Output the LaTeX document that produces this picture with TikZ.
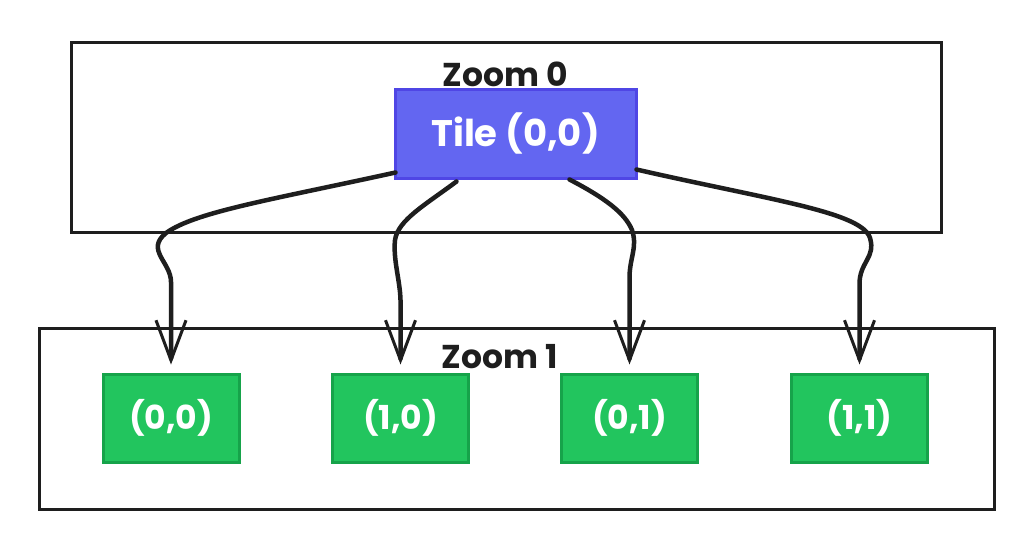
\documentclass[tikz,border=0pt]{standalone}
\usepackage{fontspec}
\setmainfont{Poppins}
\usetikzlibrary{arrows.meta}
\definecolor{tileblue}{HTML}{6366F1}
\definecolor{tileblueb}{HTML}{4F46E5}
\definecolor{tilegreen}{HTML}{22C55E}
\definecolor{tilegreenb}{HTML}{16A34A}
\definecolor{ink}{HTML}{1E1E1E}
\tikzset{
  zoombox/.style={draw=ink, line width=3pt},
  zoomlabel/.style={text=ink, font=\fontsize{33}{36}\selectfont\bfseries, inner sep=0pt},
  toptile/.style={draw=tileblueb, fill=tileblue, line width=3pt, text=white,
    minimum width=241pt, minimum height=89pt, font=\fontsize{37}{40}\selectfont\bfseries},
  subtile/.style={draw=tilegreenb, fill=tilegreen, line width=3pt, text=white,
    minimum width=136pt, minimum height=88pt, font=\fontsize{33}{36}\selectfont\bfseries},
  link/.style={draw=ink, line width=4.5pt, line cap=round, line join=round,
    -{Straight Barb[length=40pt,width=30pt,line width=3pt]}, shorten >=8pt}
}
\begin{document}
\begin{tikzpicture}[x=1pt,y=-1pt]
\useasboundingbox (0,0) rectangle (1024,539);
\fill[white] (0,0) rectangle (1024,539);
% zoom boxes
\node[zoombox, minimum width=870pt, minimum height=190pt, anchor=north west] (z0) at (70,41) {};
\node[zoombox, minimum width=955pt, minimum height=181pt, anchor=north west] (z1) at (38,327) {};
\node[zoomlabel] (l0) at (505,74) {Zoom 0};
\node[zoomlabel] (l1) at (500,357) {Zoom 1};
% tiles
\node[toptile] (t) at (515.5,133.5) {Tile (0,0)};
\node[subtile] (g1) at (171,418) {(0,0)};
\node[subtile] (g2) at (400.5,418) {(1,0)};
\node[subtile] (g3) at (629.5,418) {(0,1)};
\node[subtile] (g4) at (859.5,418) {(1,1)};
% connectors
\draw[link] ([xshift=2pt,yshift=7pt]t.south west) .. controls (270,200) and (195,212) .. (166,233)
   .. controls (145,250) and (171,262) .. (171,282) -- (g1.north);
\draw[link] ([xshift=63pt,yshift=-2pt]t.south west) .. controls (425,205) and (398,220) .. (395,240)
   .. controls (393,260) and (400,280) .. (400.5,300) -- (g2.north);
\draw[link] ([xshift=176pt,yshift=0pt]t.south west) .. controls (605,198) and (625,213) .. (632,230)
   .. controls (638,248) and (629,258) .. (629.5,280) -- (g3.north);
\draw[link] ([xshift=-1pt,yshift=10pt]t.south east) .. controls (770,200) and (862,212) .. (870,238)
   .. controls (876,258) and (859,262) .. (859.5,285) -- (g4.north);
\end{tikzpicture}
\end{document}
